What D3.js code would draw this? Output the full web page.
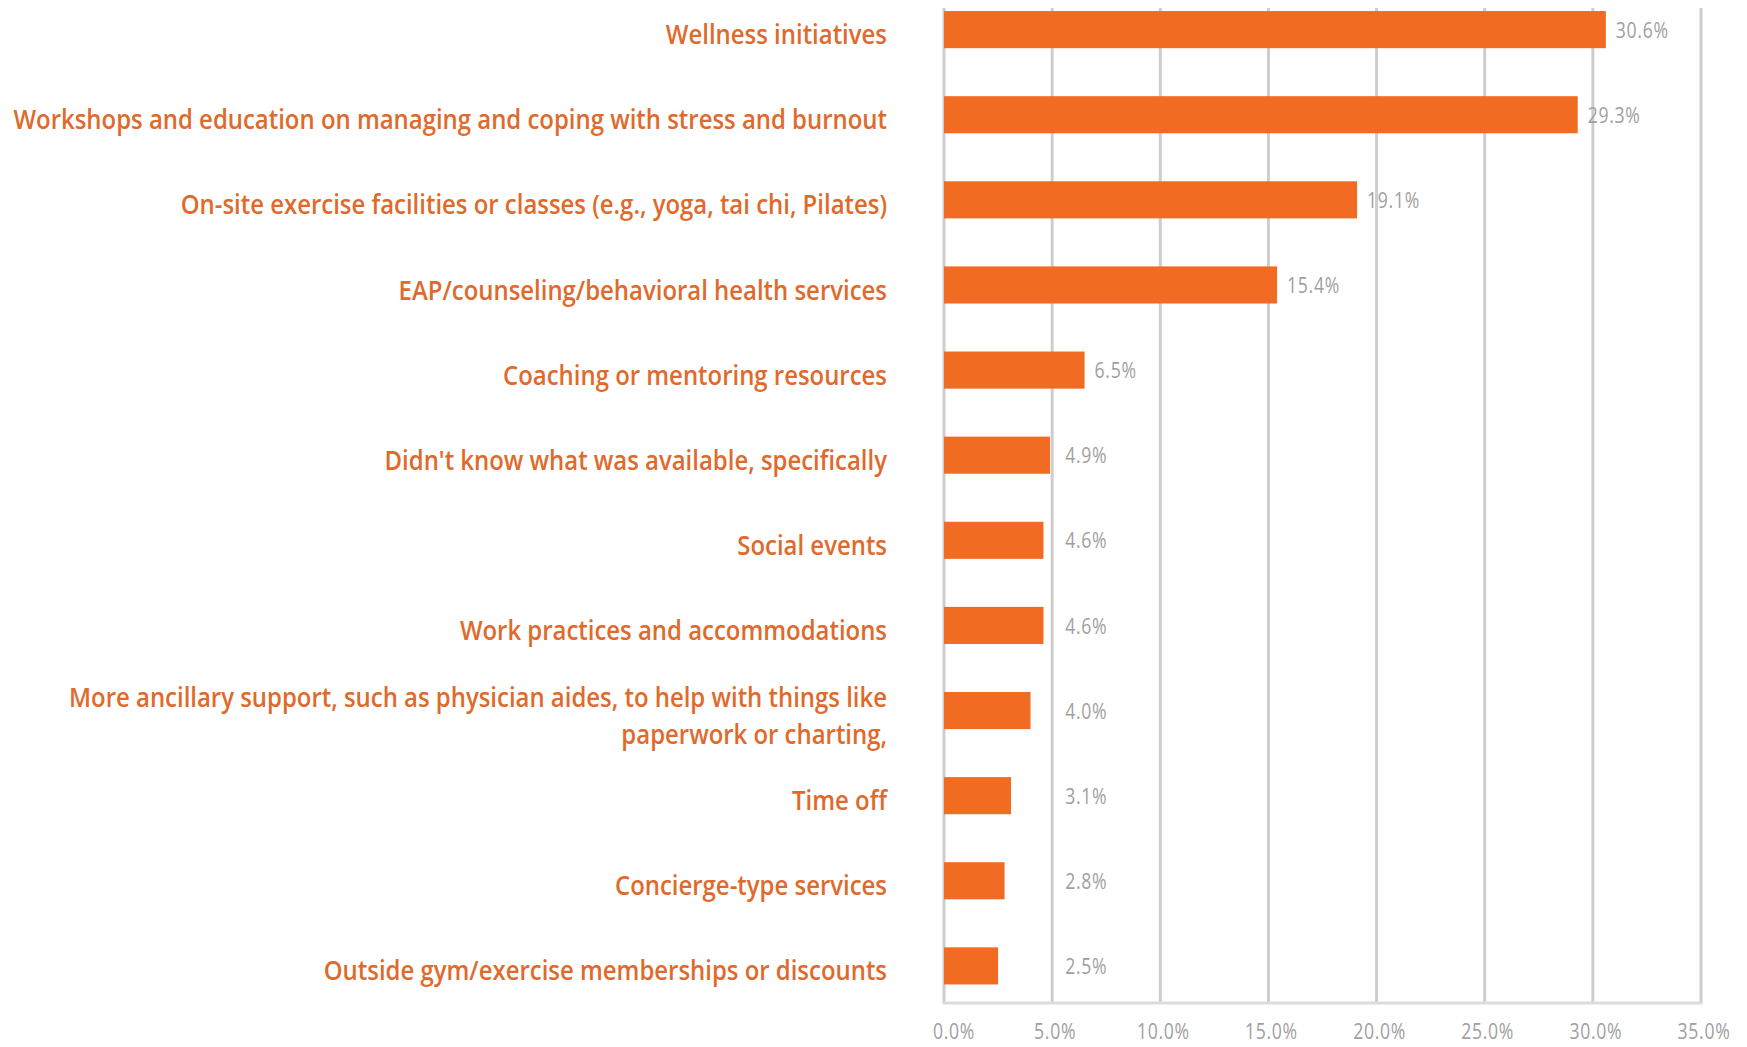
<!DOCTYPE html>
<html>
<head>
<meta charset="utf-8">
<script src="https://cdn.jsdelivr.net/npm/d3@7"></script>
<style>
  body { margin: 0; background: #ffffff; }
  svg { display: block; }
</style>
</head>
<body>
<svg id="chart" width="1747" height="1047"></svg>
<script>
// Share of respondents citing each offering (percent)
const categories = [
  "Wellness initiatives",
  "Workshops and education on managing and coping with stress and burnout",
  "On-site exercise facilities or classes (e.g., yoga, tai chi, Pilates)",
  "EAP/counseling/behavioral health services",
  "Coaching or mentoring resources",
  "Didn't know what was available, specifically",
  "Social events",
  "Work practices and accommodations",
  "More ancillary support, such as physician aides, to help with things like\npaperwork or charting,",
  "Time off",
  "Concierge-type services",
  "Outside gym/exercise memberships or discounts"
];
const values = [30.6, 29.3, 19.1, 15.4, 6.5, 4.9, 4.6, 4.6, 4.0, 3.1, 2.8, 2.5];
const valueLabels = ["30.6%", "29.3%", "19.1%", "15.4%", "6.5%", "4.9%", "4.6%", "4.6%", "4.0%", "3.1%", "2.8%", "2.5%"];
const xTicks = [0, 5, 10, 15, 20, 25, 30, 35];
const xTickLabels = ["0.0%", "5.0%", "10.0%", "15.0%", "20.0%", "25.0%", "30.0%", "35.0%"];

const BAR = "#F26B22";
const LABEL = "#DF6A2C";
const GREY_TEXT = "#a0a0a0";
const GRID = "#cdcdcd";
const FONT = "'Open Sans', 'Noto Sans', 'DejaVu Sans', sans-serif";

const svg = d3.select("#chart");

const x = d3.scaleLinear().domain([0, 35]).range([944, 1701]);
const y = d3.scaleBand().domain(categories)
  .range([-7.5, 1003])
  .paddingInner(0.564)
  .paddingOuter(0.218);

const gridTop = 8, baseY = 1003;

// vertical gridlines
svg.append("g").selectAll("line").data(xTicks).join("line")
  .attr("x1", d => x(d)).attr("x2", d => x(d))
  .attr("y1", gridTop).attr("y2", baseY)
  .attr("stroke", GRID).attr("stroke-width", 3);

// baseline
svg.append("line")
  .attr("x1", x(0) - 1.5).attr("x2", x(35) + 1.5)
  .attr("y1", baseY).attr("y2", baseY)
  .attr("stroke", "#dcdcdc").attr("stroke-width", 3);

// narrow grey text: squeezed horizontally around its anchor point
function greyText(sel, px, py) {
  sel.attr("transform", (d, i) => `translate(${px(d, i)},${py(d, i)}) scale(0.84,1)`)
    .attr("dominant-baseline", "central")
    .attr("font-family", FONT)
    .attr("font-size", 21)
    .attr("letter-spacing", 0.8)
    .attr("fill", GREY_TEXT);
}

// x tick labels
svg.append("g").selectAll("text").data(xTicks).join("text")
  .attr("text-anchor", "middle")
  .call(greyText, (d, i) => x(d) + (i === 0 ? 10 : 3), () => 1031)
  .text((d, i) => xTickLabels[i]);

// bars
svg.append("g").selectAll("rect").data(values).join("rect")
  .attr("x", x(0))
  .attr("y", (d, i) => y(categories[i]))
  .attr("width", d => x(d) - x(0))
  .attr("height", y.bandwidth())
  .attr("fill", BAR);

// value labels
svg.append("g").selectAll("text").data(values).join("text")
  .call(greyText, d => Math.max(x(d) + 10, x(5) + 13),
        (d, i) => y(categories[i]) + y.bandwidth() / 2)
  .text((d, i) => valueLabels[i]);

// category labels: tall condensed type; the longest line spans the label column
const labelRight = 887;
const labelWidth = 874;
const catSize = 27;
const probe = svg.append("text").attr("font-family", FONT).attr("font-size", catSize)
  .attr("font-weight", 600).text(categories[1]);
const probeW = probe.node().getComputedTextLength();
probe.remove();
const squeeze = labelWidth / probeW;
const lineH = 37;

const cat = svg.append("g").selectAll("text").data(categories).join("text")
  .attr("text-anchor", "end")
  .attr("font-family", FONT)
  .attr("font-size", catSize)
  .attr("font-weight", 600)
  .attr("fill", LABEL)
  .attr("dominant-baseline", "central")
  .attr("transform", d => `translate(${labelRight},${y(d) + y.bandwidth() / 2 + 4}) scale(${squeeze},1)`);

cat.each(function(d) {
  const lines = d.split("\n");
  const t = d3.select(this);
  lines.forEach((ln, k) => {
    t.append("tspan")
      .attr("x", 0)
      .attr("y", (k - (lines.length - 1) / 2) * lineH)
      .text(ln);
  });
});
</script>
</body>
</html>
